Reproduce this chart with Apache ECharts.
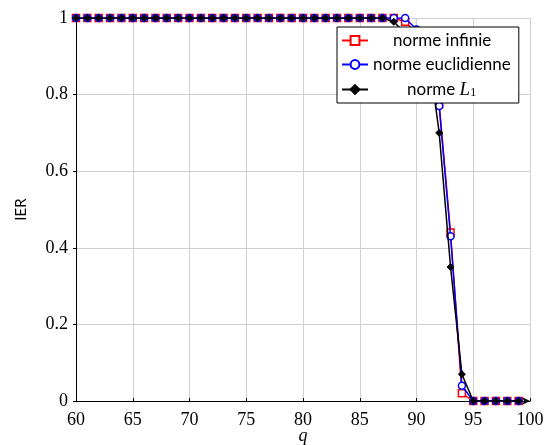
<!DOCTYPE html>
<html><head><meta charset="utf-8">
<script src="https://cdn.jsdelivr.net/npm/echarts@6/dist/echarts.min.js"></script>
<style>html,body{margin:0;padding:0;background:#fff}#c{width:544px;height:445px}</style>
</head><body><div id="c"></div>
<script>
const q = [60,61,62,63,64,65,66,67,68,69,70,71,72,73,74,75,76,77,78,79,80,81,82,83,84,85,86,87,88,89,90,91,92,93,94,95,96,97,98,99];
const normeInfinie = [1,1,1,1,1,1,1,1,1,1,1,1,1,1,1,1,1,1,1,1,1,1,1,1,1,1,1,1,1,0.99,0.96,0.93,0.775,0.44,0.02,0,0,0,0,0];
const normeEuclidienne = [1,1,1,1,1,1,1,1,1,1,1,1,1,1,1,1,1,1,1,1,1,1,1,1,1,1,1,1,1,1,0.97,0.94,0.77,0.43,0.04,0,0,0,0,0];
const normeL1 = [1,1,1,1,1,1,1,1,1,1,1,1,1,1,1,1,1,1,1,1,1,1,1,1,1,1,1,1,0.99,0.96,0.95,0.92,0.70,0.35,0.07,0,0,0,0,0];
const xTicks = [60,65,70,75,80,85,90,95,100];
const yTicks = [0,0.2,0.4,0.6,0.8,1];

const serif = '"Liberation Serif", "DejaVu Serif", serif';
const sans = 'Lato, "Open Sans", sans-serif';
function pairs(ys){ return q.map((x,i)=>[x, ys[i]]); }

const chart = echarts.init(document.getElementById('c'));
chart.setOption({
  animation:false,
  grid:{left:76,right:14,top:18,bottom:44,containLabel:false,outerBoundsMode:'none'},
  xAxis:{type:'value',min:60,max:100,interval:5,
    name:'q',nameLocation:'middle',nameGap:26,nameMoveOverlap:false,
    nameTextStyle:{fontFamily:serif,fontStyle:'italic',fontSize:18,color:'#000'},
    axisLine:{show:true,onZero:false,symbol:['none','arrow'],symbolSize:[6,8],lineStyle:{color:'#000',width:1}},
    axisTick:{show:true,inside:true,length:3,lineStyle:{color:'#000'}},
    axisLabel:{fontFamily:serif,fontSize:18,color:'#000',margin:10,
      formatter:v=>xTicks.indexOf(v)>=0?String(v):''},
    splitLine:{show:true,lineStyle:{color:'#d0d0d0',width:1}}
  },
  yAxis:{type:'value',min:0,max:1,interval:0.2,
    name:'IER',nameLocation:'middle',nameGap:47,nameMoveOverlap:false,
    nameTextStyle:{fontFamily:sans,fontSize:15,color:'#000'},
    axisLine:{show:true,onZero:false,lineStyle:{color:'#000',width:1}},
    axisTick:{show:true,length:3,lineStyle:{color:'#000'}},
    axisLabel:{fontFamily:serif,fontSize:18,color:'#000',margin:8,
      formatter:v=>{const t=yTicks.find(y=>Math.abs(y-v)<1e-9);return t===undefined?'':String(t);}},
    splitLine:{show:true,lineStyle:{color:'#d0d0d0',width:1}}
  },
  legend:{orient:'vertical',left:337,top:27,z:100,
    backgroundColor:'#fff',borderColor:'#000',borderWidth:1,borderRadius:0,
    padding:[5,8,4,4],itemGap:7,itemWidth:26,itemHeight:11,
    textStyle:{fontFamily:sans,fontSize:17,color:'#000',
      rich:{
        p1:{width:20},p3:{width:34},
        a:{fontFamily:sans,fontSize:17,color:'#000'},
        i:{fontFamily:serif,fontStyle:'italic',fontSize:19,color:'#000'},
        s:{fontFamily:serif,fontSize:12,color:'#000',verticalAlign:'bottom',padding:[6,0,0,0]}
      }},
    formatter:function(n){
      if(n==='norme infinie') return '{p1| }{a|norme infinie}';
      if(n==='norme euclidienne') return '{a|norme euclidienne}';
      return '{p3| }{a|norme }{i|L}{s|1}';
    },
    data:['norme infinie','norme euclidienne','norme L1']
  },
  series:[
    {name:'norme infinie',type:'line',data:pairs(normeInfinie),symbol:'rect',symbolSize:7,
      lineStyle:{color:'#ff0000',width:1.5},itemStyle:{color:'#fff',borderColor:'#ff0000',borderWidth:1.5},z:2},
    {name:'norme euclidienne',type:'line',data:pairs(normeEuclidienne),symbol:'circle',symbolSize:7,
      lineStyle:{color:'#0000ff',width:1.5},itemStyle:{color:'#fff',borderColor:'#0000ff',borderWidth:1.5},z:3},
    {name:'norme L1',type:'line',data:pairs(normeL1),symbol:'diamond',symbolSize:7,
      lineStyle:{color:'#000',width:1.5},itemStyle:{color:'#000',borderColor:'#000',borderWidth:1},z:4}
  ]
});
</script></body></html>
